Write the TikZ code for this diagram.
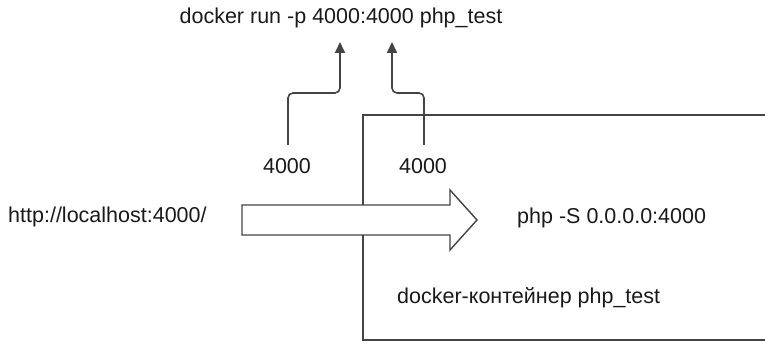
\documentclass[tikz,border=0pt]{standalone}
\usepackage{fontspec}
\setmainfont{Liberation Sans}
\usetikzlibrary{arrows.meta}
\definecolor{ln}{HTML}{444444}
\definecolor{tx}{HTML}{1A1A1A}
\begin{document}
\begin{tikzpicture}[x=1pt,y=-1pt,
  lbl/.style={inner sep=0pt,text=tx,font=\fontsize{21.5}{26}\selectfont},
  conn/.style={draw=ln,line width=1.6pt,rounded corners=5pt,-{Triangle[length=11pt,width=10pt]}},
  wall/.style={draw=ln,line width=1.6pt}]
\useasboundingbox (0,0) rectangle (765,344);
% container box (right edge beyond picture)
\draw[wall] (765,115) -- (363,115) -- (363,340) -- (765,340);
% big arrow
\draw[wall,fill=white,line width=1.4pt] (242,205) -- (450,205) -- (450,190) -- (477,220) -- (450,250) -- (450,235) -- (242,235) -- cycle;
% texts
\node[lbl] (cmd) at (341,18) {docker run -p 4000:4000 php\_test};
\node[lbl] (p1) at (287,166) {4000};
\node[lbl] (p2) at (423,166) {4000};
\node[lbl,anchor=west] (url) at (8,217) {http://localhost:4000/};
\node[lbl,anchor=west] (php) at (517,218) {php -S 0.0.0.0:4000};
\node[lbl,anchor=west] (ctr) at (397,298) {docker-контейнер php\_test};
% connectors
\coordinate (t1) at (340,42);
\coordinate (t2) at (392,42);
\draw[conn] (288,145) -- (288,93) -- (340,93) -- (t1);
\draw[conn] (424,145) -- (424,93) -- (392,93) -- (t2);
\end{tikzpicture}
\end{document}
